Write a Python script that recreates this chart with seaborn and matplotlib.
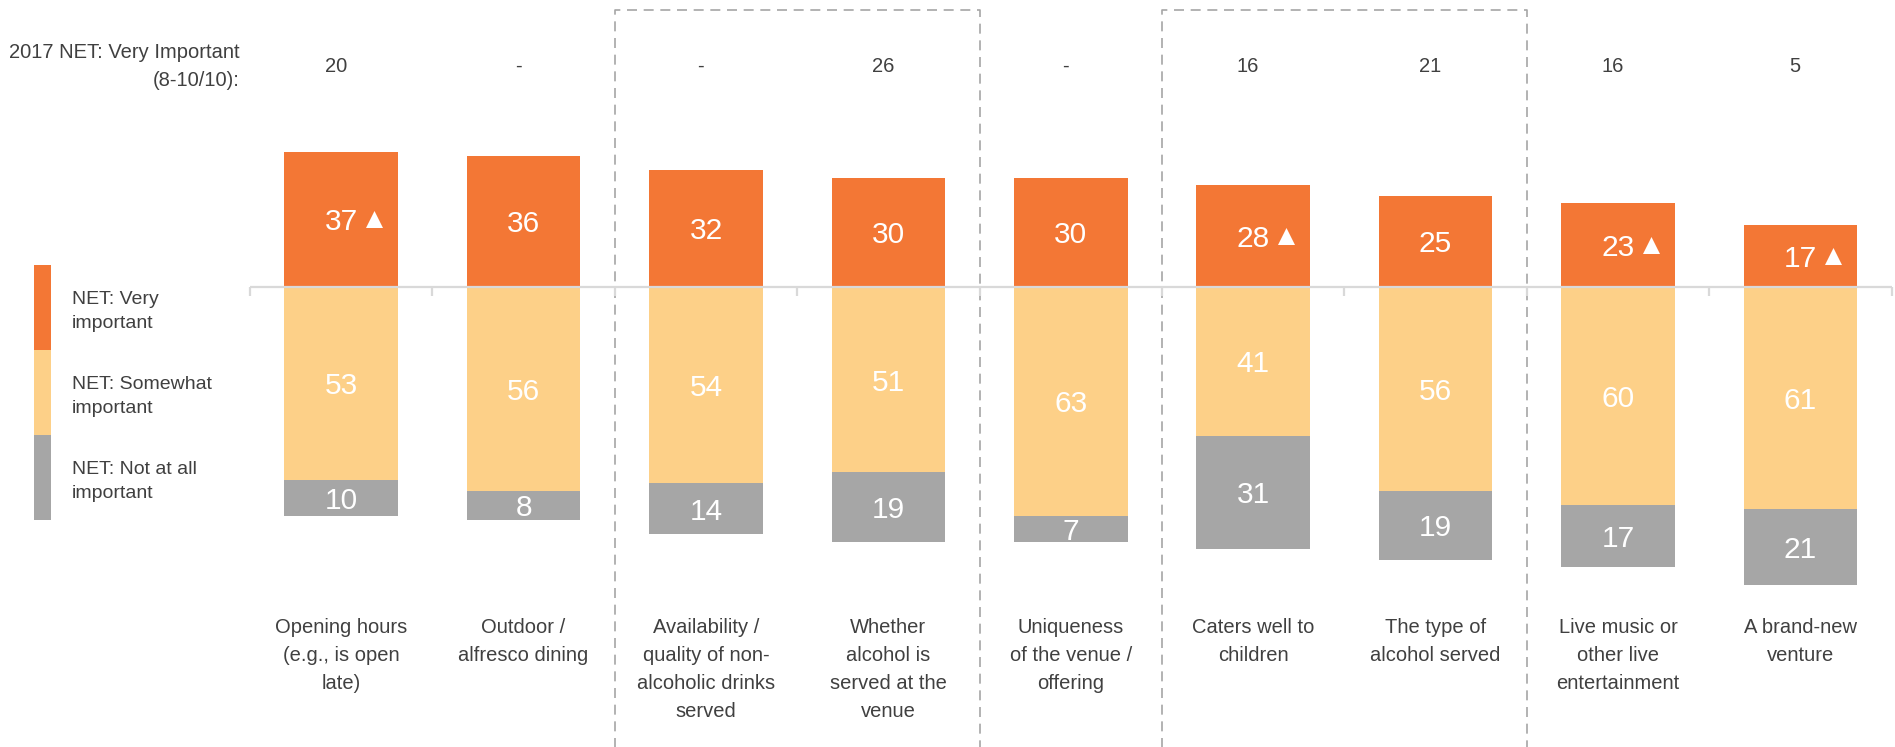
import pandas as pd
import numpy as np
import matplotlib
matplotlib.use('Agg')
import matplotlib.pyplot as plt
from matplotlib.patches import Rectangle
import seaborn as sns

# Chart data
categories = [
    "Opening hours\n(e.g., is open\nlate)",
    "Outdoor /\nalfresco dining",
    "Availability /\nquality of non-\nalcoholic drinks\nserved",
    "Whether\nalcohol is\nserved at the\nvenue",
    "Uniqueness\nof the venue /\noffering",
    "Caters well to\nchildren",
    "The type of\nalcohol served",
    "Live music or\nother live\nentertainment",
    "A brand-new\nventure",
]
very_important = [37, 36, 32, 30, 30, 28, 25, 23, 17]
somewhat_important = [53, 56, 54, 51, 63, 41, 56, 60, 61]
not_important = [10, 8, 14, 19, 7, 31, 19, 17, 21]
net_2017 = ["20", "-", "-", "26", "-", "16", "21", "16", "5"]
sig_higher = [True, False, False, False, False, True, False, True, True]
legend_labels = ["NET: Very\nimportant", "NET: Somewhat\nimportant", "NET: Not at all\nimportant"]
header_label = "2017 NET: Very Important\n(8-10/10):"
boxed_groups = [(2, 3), (5, 6)]

ORANGE = '#F37735'
LIGHT = '#FDD088'
GREY = '#A6A6A6'
TEXT = '#404040'
LINE = '#D9D9D9'
FONT = ['Liberation Sans Narrow', 'Liberation Sans', 'DejaVu Sans']

W, H = 1895, 747
PX_PER_UNIT = 3.64      # vertical pixels per percentage point
PX_PER_CAT = 182.4      # horizontal pixels per category
ZERO_Y = 286.7          # pixel row of the zero line
AX_LEFT = 250           # pixel column of first category boundary


def py(pixel_row):
    # pixel row (from top) -> data y
    return (ZERO_Y - pixel_row) / PX_PER_UNIT


df = pd.DataFrame({
    'category': categories,
    'very': very_important,
    'somewhat_neg': [-v for v in somewhat_important],
    'total_neg': [-(a + b) for a, b in zip(somewhat_important, not_important)],
})

sns.set_style('white')
plt.rcParams['font.family'] = FONT

fig = plt.figure(figsize=(W / 100, H / 100), dpi=100)
ax = fig.add_axes([0, 0, 1, 1])

bar_kw = dict(width=0.623, saturation=1, linewidth=0, ax=ax, zorder=2)
sns.barplot(data=df, x='category', y='total_neg', color=GREY, **bar_kw)
sns.barplot(data=df, x='category', y='somewhat_neg', color=LIGHT, **bar_kw)
sns.barplot(data=df, x='category', y='very', color=ORANGE, **bar_kw)

n = len(categories)
x_left = -0.5 - AX_LEFT / PX_PER_CAT
ax.set_xlim(x_left, x_left + W / PX_PER_CAT)
ax.set_ylim(py(H), py(0))
ax.axis('off')

# zero line with category boundary ticks
ax.hlines(0, -0.5, n - 0.5, color=LINE, lw=1.6, zorder=3)
ax.vlines(np.arange(n + 1) - 0.5, -2.6, 0, color=LINE, lw=1.6, zorder=3)

# value labels
lab_kw = dict(ha='center', va='center_baseline', color='white', fontsize=21.5, zorder=5)
for i in range(n):
    v, s, t = very_important[i], somewhat_important[i], not_important[i]
    ax.text(i, v / 2, str(v), **lab_kw)
    ax.text(i, -s / 2, str(s), **lab_kw)
    ax.text(i, -s - t / 2, str(t), **lab_kw)
    if sig_higher[i]:
        ax.scatter(i + 0.18, v / 2, marker='^', s=150, color='white', linewidths=0, zorder=5)
    ax.text(i - 0.03, py(66), net_2017[i], ha='center', va='center', color=TEXT, fontsize=14.5)
    ax.text(i, py(618), categories[i], ha='center', va='top', color=TEXT, fontsize=14.5,
            linespacing=1.6)

# header for the 2017 row
fig.text(240 / W, 1 - 67 / H, header_label, ha='right', va='center', color=TEXT,
         fontsize=14.5, multialignment='right', linespacing=1.6)

# dashed group boxes
for a, b in boxed_groups:
    x0, x1 = a - 0.5, b + 0.5
    ax.plot([x0, x0, x1, x1], [py(H + 20), py(10), py(10), py(H + 20)],
            color='#A6A6A6', lw=1.2, ls=(0, (6, 4)), zorder=1, clip_on=True)

# legend strip
seg_h = 85
for k, (lab, col) in enumerate(zip(legend_labels, [ORANGE, LIGHT, GREY])):
    top = 265 + k * seg_h
    fig.add_artist(Rectangle((34 / W, 1 - (top + seg_h) / H), 17 / W, seg_h / H,
                             transform=fig.transFigure, color=col, lw=0))
    fig.text(72 / W, 1 - (top + seg_h / 2 + 4) / H, lab, ha='left', va='center',
             color=TEXT, fontsize=14, linespacing=1.6)

fig.savefig('out.png', dpi=100, facecolor='white')
